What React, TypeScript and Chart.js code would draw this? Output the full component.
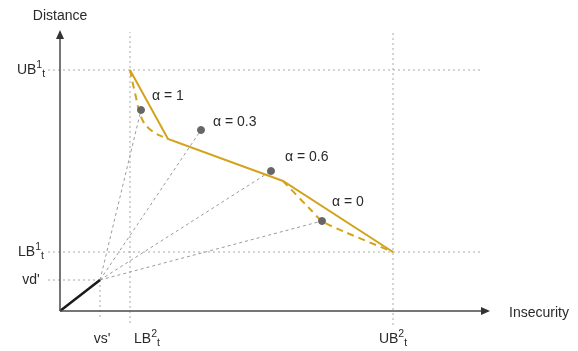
import { useEffect, useRef } from 'react';
import { Chart, registerables } from 'chart.js';

Chart.register(...registerables);

// ---- Data (abstract diagram units) ----
const VS = 4; // vs'
const VD = 3.1; // vd'
const LB2 = 7;
const UB2 = 33.3;
const UB1 = 24.1;
const LB1 = 5.9;
const X_AXIS_END = 43;
const Y_AXIS_END = 28.1;

const goldX = [7, 10.8, 22.3, 33.3];
const goldY = [24.1, 17.2, 13.0, 5.9];

const curve1X = [7, 7.5, 8.2, 9.2, 10.8];
const curve1Y = [24.1, 21.8, 19.2, 18.0, 17.2];

const curve2X = [22.3, 25.0, 26.2, 28.5, 33.3];
const curve2Y = [13.0, 10.2, 9.0, 7.9, 5.9];

const pointX = [8.1, 14.1, 21.1, 26.2];
const pointY = [20.1, 18.1, 14.0, 9.0];
const alphaLabels = ['α = 1', 'α = 0.3', 'α = 0.6', 'α = 0'];
const alphaLabelX = [9.2, 15.3, 22.5, 27.2];
const alphaLabelY = [21.5, 18.9, 15.4, 10.9];

const yTickValues = [UB1, LB1, VD];
const yTickLabels = [['UB', '1', 't'], ['LB', '1', 't'], ["vd'"]];
const xTickValues = [VS, LB2, UB2];
const xTickLabels = [["vs'"], ['LB', '2', 't'], ['UB', '2', 't']];
const xTickShift = [2, 17, 0];

const GOLD = '#D4A31C';
const FONT = '"Liberation Sans", Arial, Helvetica, sans-serif';
const TEXT = '#2a2a2a';

function xy(xs: number[], ys: number[]) {
  return xs.map((x, i) => ({ x, y: ys[i] }));
}

function drawRich(ctx: CanvasRenderingContext2D, parts: string[], x: number, y: number, align: 'center' | 'left') {
  const specs = parts.map((t, i) => ({
    t,
    size: i === 0 ? 14 : 10.5,
    dy: i === 0 ? 0 : i === 1 ? -5 : 4,
  }));
  let total = 0;
  const widths = specs.map((s) => {
    ctx.font = `${s.size}px ${FONT}`;
    const w = ctx.measureText(s.t).width;
    total += w;
    return w;
  });
  let cx = align === 'center' ? x - total / 2 : x;
  ctx.textAlign = 'left';
  ctx.textBaseline = 'middle';
  specs.forEach((s, i) => {
    ctx.font = `${s.size}px ${FONT}`;
    ctx.fillText(s.t, cx, y + s.dy);
    cx += widths[i];
  });
}

const diagramPlugin = {
  id: 'diagram',
  afterDatasetsDraw(chart: any) {
    const ctx: CanvasRenderingContext2D = chart.ctx;
    const xs = chart.scales.x;
    const ys = chart.scales.y;
    const ox = xs.getPixelForValue(0);
    const oy = ys.getPixelForValue(0);
    const xe = xs.getPixelForValue(X_AXIS_END);
    const ye = ys.getPixelForValue(Y_AXIS_END);
    ctx.save();
    // axes
    ctx.strokeStyle = '#4a4a4a';
    ctx.fillStyle = '#333';
    ctx.lineWidth = 1.5;
    ctx.beginPath();
    ctx.moveTo(ox, oy);
    ctx.lineTo(xe - 6, oy);
    ctx.moveTo(ox, oy);
    ctx.lineTo(ox, ye + 6);
    ctx.stroke();
    ctx.beginPath();
    ctx.moveTo(xe, oy);
    ctx.lineTo(xe - 9, oy - 4);
    ctx.lineTo(xe - 9, oy + 4);
    ctx.closePath();
    ctx.fill();
    ctx.beginPath();
    ctx.moveTo(ox, ye);
    ctx.lineTo(ox - 4, ye + 9);
    ctx.lineTo(ox + 4, ye + 9);
    ctx.closePath();
    ctx.fill();

    ctx.fillStyle = TEXT;
    // axis titles
    drawRich(ctx, ['Distance'], ox, ye - 14, 'center');
    drawRich(ctx, ['Insecurity'], xe + 19, oy + 2, 'left');
    // y labels
    yTickValues.forEach((v, i) => {
      drawRich(ctx, yTickLabels[i], ox - 29, ys.getPixelForValue(v), 'center');
    });
    // x labels
    xTickValues.forEach((v, i) => {
      drawRich(ctx, xTickLabels[i], xs.getPixelForValue(v) + xTickShift[i], oy + 28, 'center');
    });
    // alpha labels
    alphaLabels.forEach((t, i) => {
      drawRich(ctx, [t], xs.getPixelForValue(alphaLabelX[i]), ys.getPixelForValue(alphaLabelY[i]), 'left');
    });
    ctx.restore();
  },
};

export default function App() {
  const ref = useRef<HTMLCanvasElement>(null);
  useEffect(() => {
    document.body.style.margin = '0';
    if (!ref.current) return;

    const grid = (data: { x: number; y: number }[]) => ({
      data,
      borderColor: '#a8a8a8',
      borderWidth: 1,
      borderDash: [2, 3],
      pointRadius: 0,
      showLine: true,
      fill: false,
      tension: 0,
    });
    const rays = pointX.map((px, i) => ({
      data: [{ x: VS, y: VD }, { x: px, y: pointY[i] }],
      borderColor: '#9a9a9a',
      borderWidth: 1,
      borderDash: [3, 3],
      pointRadius: 0,
      showLine: true,
      fill: false,
      tension: 0,
    }));

    const chart = new Chart(ref.current, {
      type: 'scatter',
      data: {
        datasets: [
          {
            data: xy(pointX, pointY),
            pointRadius: 3.5,
            pointBackgroundColor: '#666',
            pointBorderColor: '#666',
            showLine: false,
          },
          {
            data: xy(goldX, goldY),
            borderColor: GOLD,
            borderWidth: 2,
            pointRadius: 0,
            showLine: true,
            tension: 0,
          },
          {
            data: xy(curve1X, curve1Y),
            borderColor: GOLD,
            borderWidth: 2,
            borderDash: [7, 5],
            pointRadius: 0,
            showLine: true,
            tension: 0.4,
          },
          {
            data: xy(curve2X, curve2Y),
            borderColor: GOLD,
            borderWidth: 2,
            borderDash: [7, 5],
            pointRadius: 0,
            showLine: true,
            tension: 0.3,
          },
          {
            data: [{ x: 0, y: 0 }, { x: VS, y: VD }],
            borderColor: '#1a1a1a',
            borderWidth: 2.5,
            pointRadius: 0,
            showLine: true,
            tension: 0,
          },
          ...rays,
          grid([{ x: -1.2, y: UB1 }, { x: 42.2, y: UB1 }]),
          grid([{ x: -1.2, y: LB1 }, { x: 42.2, y: LB1 }]),
          grid([{ x: -1.2, y: VD }, { x: VS, y: VD }]),
          grid([{ x: LB2, y: -1.2 }, { x: LB2, y: 27.9 }]),
          grid([{ x: UB2, y: -1.4 }, { x: UB2, y: 27.9 }]),
          grid([{ x: VS, y: VD }, { x: VS, y: -0.9 }]),
        ] as any,
      },
      options: {
        animation: false,
        responsive: false,
        maintainAspectRatio: false,
        layout: { padding: 0, autoPadding: false },
        plugins: { legend: { display: false }, tooltip: { enabled: false }, title: { display: false } },
        scales: {
          x: { type: 'linear', min: -6, max: 51.8, display: false },
          y: { type: 'linear', min: -4, max: 31.1, display: false },
        },
        elements: { line: { borderCapStyle: 'butt' } },
      },
      plugins: [diagramPlugin],
    });
    return () => chart.destroy();
  }, []);
  return (
    <div style={{ width: 578, height: 351, background: '#fff' }}>
      <canvas ref={ref} width={578} height={351} style={{ display: 'block' }} />
    </div>
  );
}
